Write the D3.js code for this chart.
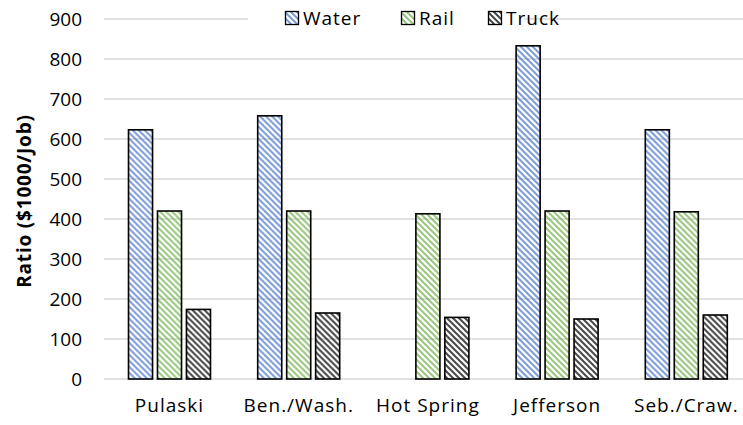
<!DOCTYPE html>
<html>
<head>
<meta charset="utf-8">
<script src="https://cdn.jsdelivr.net/npm/d3@7"></script>
<style>
  html, body { margin: 0; padding: 0; background: #fff; }
  svg { display: block; }
  text { font-family: "Open Sans", "Liberation Sans", sans-serif; fill: #000; }
</style>
</head>
<body>
<svg id="chart" width="743" height="425"></svg>
<script>
const categories = ["Pulaski", "Ben./Wash.", "Hot Spring", "Jefferson", "Seb./Craw."];
const seriesNames = ["Water", "Rail", "Truck"];
const water = [623, 658, null, 833, 623];
const rail = [420, 420, 413, 420, 418];
const truck = [174, 165, 154, 150, 160];
const yTicks = [0, 100, 200, 300, 400, 500, 600, 700, 800, 900];
const seriesColors = ["#4472C4", "#70AD47", "#262626"];

const seriesValues = [water, rail, truck];
const svg = d3.select("#chart");

// hatch patterns ("wide downward diagonal")
const defs = svg.append("defs");
seriesNames.forEach((s, i) => {
  const p = defs.append("pattern")
    .attr("id", "hatch" + i)
    .attr("patternUnits", "userSpaceOnUse")
    .attr("width", 6).attr("height", 6);
  p.append("path")
    .attr("d", "M-1,-1 L7,7 M-1,5 L1,7 M5,-1 L7,1")
    .attr("stroke", seriesColors[i])
    .attr("stroke-opacity", i === 2 ? 0.85 : 0.7)
    .attr("stroke-width", 2);
});

const x0 = d3.scaleBand().domain(categories).range([104.5, 750.5]).padding(0);
const x1 = d3.scaleBand().domain(seriesNames).range([24, 106]).paddingInner(0.17);
const y = d3.scaleLinear().domain([0, 900]).range([379, 19]);

// gridlines
svg.append("g").selectAll("line").data(yTicks).join("line")
  .attr("x1", 104).attr("x2", 743)
  .attr("y1", d => y(d)).attr("y2", d => y(d))
  .attr("stroke", "#d9d9d9").attr("stroke-width", 1.3);

// y axis labels
const yAxis = d3.axisLeft(y).tickValues(yTicks).tickSize(0).tickPadding(0);
const ya = svg.append("g").attr("transform", "translate(82,0)").call(yAxis);
ya.select(".domain").remove();
ya.selectAll("text").attr("font-size", 19).attr("font-family", "Open Sans").attr("fill", "#000").attr("dy", "0.35em");

// x axis labels
const xAxis = d3.axisBottom(x0).tickSize(0).tickPadding(0);
const xa = svg.append("g").attr("transform", "translate(0,400)").call(xAxis);
xa.select(".domain").remove();
xa.selectAll("text").attr("font-size", 19).attr("font-family", "Open Sans").attr("fill", "#000")
  .attr("letter-spacing", 1)
  .attr("x", d => x1.range()[0] + (x1.range()[1] - x1.range()[0]) / 2 - x0.bandwidth() / 2)
  .attr("dy", "0.71em").attr("y", -2);

// bars
const groups = svg.append("g").selectAll("g").data(categories).join("g")
  .attr("transform", d => `translate(${x0(d)},0)`);
groups.selectAll("rect")
  .data((c, ci) => seriesNames.map((s, si) => ({ s, si, v: seriesValues[si][ci] })).filter(d => d.v != null))
  .join("rect")
  .attr("x", d => x1(d.s))
  .attr("width", x1.bandwidth())
  .attr("y", d => y(d.v))
  .attr("height", d => y(0) - y(d.v))
  .attr("fill", d => `url(#hatch${d.si})`)
  .attr("stroke", "#000").attr("stroke-width", 1.6);

// axis title
svg.append("text")
  .attr("transform", "translate(24,201) rotate(-90)")
  .attr("text-anchor", "middle").attr("dy", "0.35em")
  .attr("font-size", 19).attr("font-weight", "bold").attr("letter-spacing", 0.8)
  .text("Ratio ($1000/Job)");

// legend
const legend = svg.append("g");
legend.append("rect").attr("x", 248).attr("y", 6).attr("width", 276).attr("height", 26).attr("fill", "#fff");
const legX = [285, 401, 488];
seriesNames.forEach((s, i) => {
  const g = legend.append("g").attr("transform", `translate(${legX[i]},0)`);
  g.append("rect").attr("x", 0.5).attr("y", 11.5).attr("width", 13).attr("height", 13)
    .attr("fill", `url(#hatch${i})`).attr("stroke", "#000").attr("stroke-width", 1.3);
  g.append("text").attr("x", 18).attr("y", 18).attr("dy", "0.35em")
    .attr("font-size", 19).attr("letter-spacing", 1).text(s);
});
</script>
</body>
</html>
